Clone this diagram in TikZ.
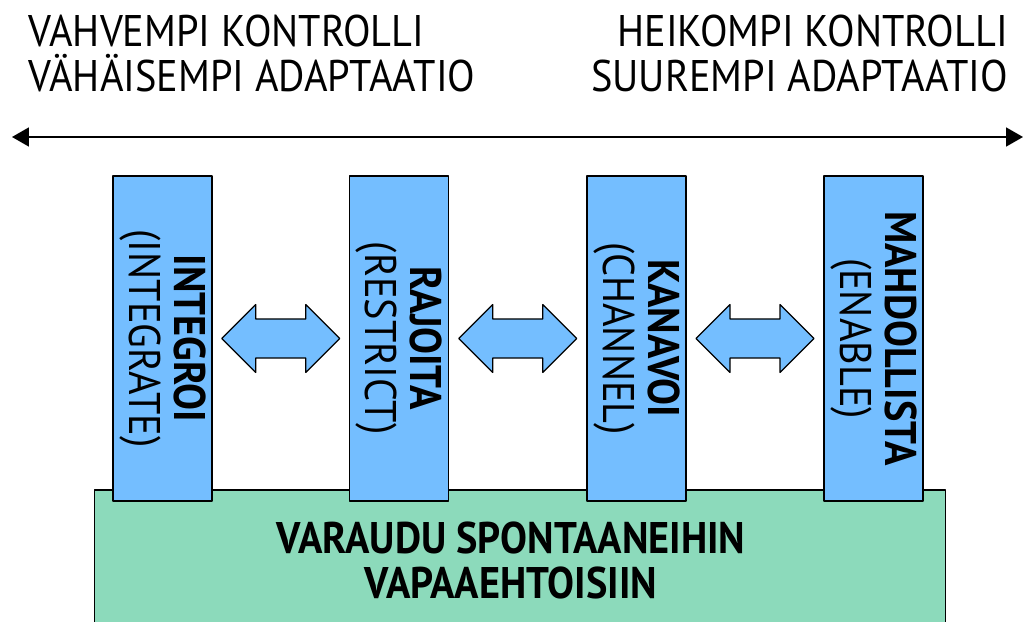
\documentclass[tikz,border=0pt]{standalone}
\usepackage{fontspec}
\setmainfont[FakeStretch=0.91]{PT Sans}
\usetikzlibrary{arrows.meta,calc}
\definecolor{barblue}{RGB}{116,190,255}
\definecolor{basegreen}{RGB}{140,218,187}
\newcommand\bigfont{\fontsize{31.5pt}{32pt}\selectfont}
\begin{document}
\begin{tikzpicture}[x=0.025cm,y=-0.025cm,font=\bigfont,line join=round,
  bar/.style={draw=black,line width=0.8pt,fill=barblue,rotate=-90,align=center,
    inner sep=0pt,minimum width=8.125cm,minimum height=2.475cm},
  blockarrow/.style={draw=black,line width=0.8pt,fill=barblue},
  >={Triangle[length=12pt,width=13.5pt]}]
\useasboundingbox(0,0)rectangle(1024,622);
\clip(0,0)rectangle(1024,622);
% headings
\node[anchor=north west,align=left,inner sep=0pt](strong)at(28,15){VAHVEMPI KONTROLLI\\VÄHÄISEMPI ADAPTAATIO};
\node[anchor=north east,align=right,inner sep=0pt](weak)at(1008,15){HEIKOMPI KONTROLLI\\SUUREMPI ADAPTAATIO};
\coordinate(lft)at(12,137);
\coordinate(rgt)at(1023,137);
\draw[<->,line width=1pt](lft)--(rgt);
% base
\node[draw=black,line width=0.8pt,fill=basegreen,minimum width=21.25cm,minimum height=3.5cm](base)at(520,560){};
\node[font=\bigfont\bfseries,align=center,inner sep=0pt](baselabel)at(511,560){VARAUDU SPONTAANEIHIN\\VAPAAEHTOISIIN};
% bars
\node[bar](integ)at(162.5,338.5){\textbf{INTEGROI}\\(INTEGRATE)};
\node[bar](rajo)at(399,338.5){\textbf{RAJOITA}\\(RESTRICT)};
\node[bar](kana)at(636.5,338.5){\textbf{KANAVOI}\\(CHANNEL)};
\node[bar](mahd)at(873.5,338.5){\textbf{MAHDOLLISTA}\\(ENABLE)};
\foreach \a/\b in{integ/rajo,rajo/kana,kana/mahd}
\draw[blockarrow,shift={($(\a)!0.5!(\b)$)}](-59,0)--(-25,-34)--(-25,-19.5)--(25,-19.5)--(25,-34)--(59,0)--(25,34)--(25,19.5)--(-25,19.5)--(-25,34)--cycle;
\end{tikzpicture}
\end{document}
